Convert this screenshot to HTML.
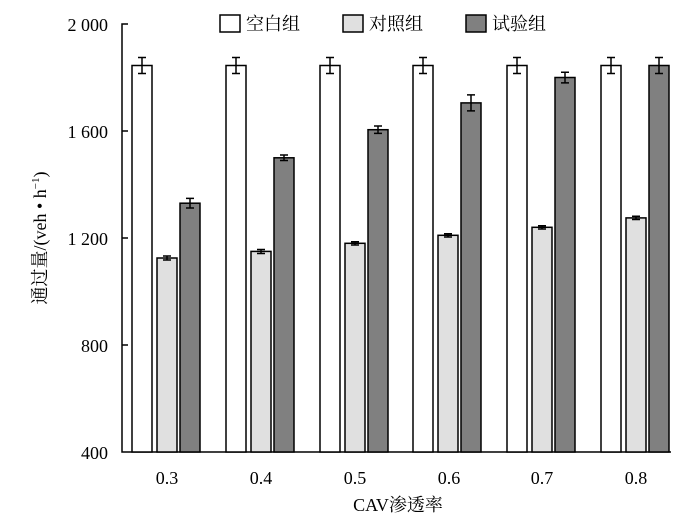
<!DOCTYPE html>
<html><head><meta charset="utf-8"><style>
body{margin:0;background:#fff}
text{font-family:"Liberation Serif","Noto Serif CJK SC",serif;fill:#000}
</style></head><body>
<svg width="700" height="518" viewBox="0 0 700 518" xmlns="http://www.w3.org/2000/svg">
<g stroke="#000" stroke-width="1.5" fill="none">
<path d="M128 24 H122 V452 H671"/>
<path d="M122 131 H128 M122 238 H128 M122 345 H128"/>
</g>
<g font-size="18" text-anchor="end">
<text x="108" y="31">2 000</text><text x="108" y="138">1 600</text>
<text x="108" y="245">1 200</text><text x="108" y="352">800</text><text x="108" y="459">400</text>
</g>
<g stroke="#000" stroke-width="1.5">
<g fill="#fff">
<rect x="132" y="65.5" width="20" height="386.5"/>
<rect x="226" y="65.5" width="20" height="386.5"/>
<rect x="320" y="65.5" width="20" height="386.5"/>
<rect x="413" y="65.5" width="20" height="386.5"/>
<rect x="507" y="65.5" width="20" height="386.5"/>
<rect x="601" y="65.5" width="20" height="386.5"/>
</g>
<g fill="#e0e0e0">
<rect x="157" y="258" width="20" height="194"/>
<rect x="251" y="251.4" width="20" height="200.6"/>
<rect x="345" y="243.3" width="20" height="208.7"/>
<rect x="438" y="235.3" width="20" height="216.7"/>
<rect x="532" y="227.3" width="20" height="224.7"/>
<rect x="626" y="217.9" width="20" height="234.1"/>
</g>
<g fill="#808080">
<rect x="180" y="203.2" width="20" height="248.8"/>
<rect x="274" y="157.8" width="20" height="294.2"/>
<rect x="368" y="129.7" width="20" height="322.3"/>
<rect x="461" y="102.9" width="20" height="349.1"/>
<rect x="555" y="77.5" width="20" height="374.5"/>
<rect x="649" y="65.5" width="20" height="386.5"/>
</g>
<g fill="none">
<path d="M142 57.5V73.5M138 57.5H146M138 73.5H146"/>
<path d="M236 57.5V73.5M232 57.5H240M232 73.5H240"/>
<path d="M330 57.5V73.5M326 57.5H334M326 73.5H334"/>
<path d="M423 57.5V73.5M419 57.5H427M419 73.5H427"/>
<path d="M517 57.5V73.5M513 57.5H521M513 73.5H521"/>
<path d="M611 57.5V73.5M607 57.5H615M607 73.5H615"/>
<path d="M167 256V260M163 256H171M163 260H171"/>
<path d="M261 249.5V253.5M257 249.5H265M257 253.5H265"/>
<path d="M355 241.7V245M351 241.7H359M351 245H359"/>
<path d="M448 233.7V237M444 233.7H452M444 237H452"/>
<path d="M542 225.7V229M538 225.7H546M538 229H546"/>
<path d="M636 216.3V219.5M632 216.3H640M632 219.5H640"/>
<path d="M190 198.4V208M186 198.4H194M186 208H194"/>
<path d="M284 155V160.5M280 155H288M280 160.5H288"/>
<path d="M378 126V133.4M374 126H382M374 133.4H382"/>
<path d="M471 94.9V110.9M467 94.9H475M467 110.9H475"/>
<path d="M565 72.2V82.9M561 72.2H569M561 82.9H569"/>
<path d="M659 57.5V73.5M655 57.5H663M655 73.5H663"/>
</g>
</g>
<g font-size="18" text-anchor="middle">
<text x="167" y="484">0.3</text><text x="261" y="484">0.4</text><text x="355" y="484">0.5</text>
<text x="449" y="484">0.6</text><text x="542" y="484">0.7</text><text x="636" y="484">0.8</text>
<text x="398" y="511">CAV渗透率</text>
</g>
<text transform="translate(46,238) rotate(-90)" font-size="18" text-anchor="middle">通过量/(veh • h<tspan font-size="11" dy="-7">−1</tspan><tspan dy="7">)</tspan></text>
<g font-size="18" stroke="#000" stroke-width="1.5">
<rect x="220" y="15" width="20" height="17" fill="#fff"/><text x="246" y="30" stroke="none">空白组</text>
<rect x="343" y="15" width="20" height="17" fill="#e0e0e0"/><text x="369" y="30" stroke="none">对照组</text>
<rect x="466" y="15" width="20" height="17" fill="#808080"/><text x="492" y="30" stroke="none">试验组</text>
</g>
</svg>
</body></html>
